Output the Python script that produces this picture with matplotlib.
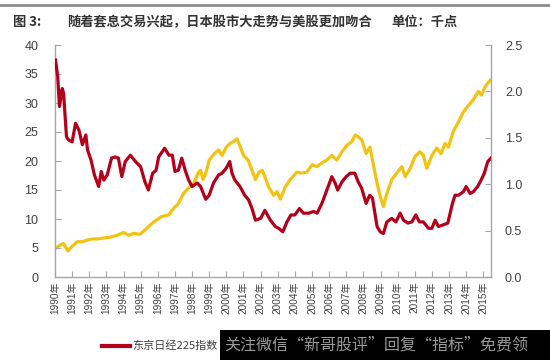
import matplotlib
matplotlib.use("Agg")
import matplotlib.pyplot as plt
from matplotlib.patches import Rectangle
from matplotlib.lines import Line2D

# ---- data ----
nikkei_t = [1990.03, 1990.16, 1990.26, 1990.42, 1990.5, 1990.67, 1990.8, 1991.0, 1991.2, 1991.4,
            1991.6, 1991.8, 1991.9, 1992.1, 1992.3, 1992.55, 1992.7, 1992.85, 1993.05, 1993.3,
            1993.5, 1993.7, 1993.9, 1994.1, 1994.4, 1994.7, 1995.0, 1995.25, 1995.45, 1995.7,
            1995.9, 1996.05, 1996.4, 1996.65, 1996.85, 1997.0, 1997.2, 1997.4, 1997.6, 1997.8,
            1998.0, 1998.3, 1998.5, 1998.7, 1998.8, 1999.0, 1999.25, 1999.55, 1999.75, 1999.98,
            2000.2, 2000.33, 2000.5, 2000.8, 2001.07, 2001.3, 2001.5, 2001.7, 2002.0, 2002.25,
            2002.57, 2002.86, 2003.05, 2003.3, 2003.54, 2003.77, 2004.0, 2004.27, 2004.5, 2004.8,
            2005.1, 2005.3, 2005.58, 2005.87, 2006.16, 2006.35, 2006.5, 2006.75, 2007.0, 2007.23,
            2007.5, 2007.7, 2007.9, 2008.16, 2008.37, 2008.53, 2008.8, 2008.98, 2009.17, 2009.37,
            2009.66, 2009.9, 2010.15, 2010.34, 2010.6, 2010.83, 2011.06, 2011.27, 2011.5, 2011.8,
            2012.0, 2012.19, 2012.38, 2012.67, 2012.93, 2013.2, 2013.35, 2013.55, 2013.84, 2014.0,
            2014.23, 2014.42, 2014.67, 2014.87, 2015.06, 2015.26, 2015.45]
nikkei_v = [37.4, 34.5, 29.4, 32.5, 31.7, 24.2, 23.6, 23.3, 26.5, 25.3,
            22.8, 24.5, 21.9, 20.2, 17.6, 15.6, 18.2, 16.7, 17.6, 20.5,
            20.7, 20.5, 17.3, 19.9, 21.0, 19.9, 19.0, 16.4, 15.0, 17.9,
            18.4, 20.7, 22.2, 21.0, 21.0, 18.2, 18.4, 20.5, 18.4, 16.7,
            15.6, 16.2, 15.6, 14.1, 13.4, 14.1, 16.2, 17.6, 17.9, 18.7,
            19.9, 17.9, 16.7, 15.6, 14.1, 13.3, 11.8, 9.8, 10.1, 11.5,
            9.8, 8.7, 8.4, 7.8, 9.5, 10.7, 10.7, 11.8, 11.0, 11.0,
            11.3, 11.0, 12.7, 15.0, 17.3, 16.2, 15.0, 16.4, 17.3, 17.9,
            17.9, 16.4, 15.3, 12.7, 14.1, 13.6, 8.7, 7.8, 7.5, 9.5,
            10.1, 9.5, 11.0, 9.8, 9.3, 9.5, 10.7, 9.5, 9.5, 8.4,
            8.4, 9.8, 8.7, 9.0, 9.3, 12.7, 14.1, 14.1, 14.7, 15.6,
            14.4, 14.7, 15.6, 16.7, 17.9, 19.9, 20.5]

spx_t = [1990.03, 1990.32, 1990.5, 1990.75, 1991.0, 1991.3, 1991.6, 1991.9, 1992.2, 1992.46,
         1992.85, 1993.24, 1993.63, 1994.0, 1994.3, 1994.6, 1994.95, 1995.28, 1995.67, 1995.9,
         1996.2, 1996.64, 1996.93, 1997.2, 1997.5, 1997.8, 1998.1, 1998.35, 1998.5, 1998.64,
         1998.82, 1999.0, 1999.3, 1999.55, 1999.75, 2000.0, 2000.23, 2000.43, 2000.62, 2000.82,
         2001.0, 2001.27, 2001.5, 2001.7, 2001.9, 2002.1, 2002.25, 2002.47, 2002.76, 2002.96,
         2003.15, 2003.44, 2003.73, 2004.12, 2004.4, 2004.7, 2005.0, 2005.29, 2005.58, 2005.87,
         2006.16, 2006.45, 2006.75, 2007.04, 2007.33, 2007.52, 2007.7, 2007.9, 2008.16, 2008.38,
         2008.53, 2008.8, 2008.98, 2009.17, 2009.37, 2009.66, 2009.95, 2010.25, 2010.44, 2010.73,
         2011.02, 2011.3, 2011.5, 2011.7, 2012.0, 2012.28, 2012.54, 2012.77, 2012.96, 2013.25,
         2013.55, 2013.84, 2014.13, 2014.42, 2014.71, 2014.9, 2015.1, 2015.4]
spx_v = [0.31, 0.345, 0.36, 0.28, 0.33, 0.38, 0.38, 0.40, 0.41, 0.41,
         0.42, 0.43, 0.45, 0.48, 0.45, 0.47, 0.46, 0.51, 0.58, 0.61,
         0.65, 0.67, 0.74, 0.79, 0.90, 0.96, 1.01, 1.12, 1.15, 1.05,
         1.13, 1.26, 1.33, 1.37, 1.31, 1.40, 1.44, 1.46, 1.49, 1.40,
         1.31, 1.26, 1.15, 1.05, 1.13, 1.15, 1.08, 0.97, 0.88, 0.92,
         0.84, 0.97, 1.05, 1.13, 1.12, 1.13, 1.21, 1.19, 1.23, 1.26,
         1.31, 1.26, 1.35, 1.42, 1.46, 1.53, 1.51, 1.48, 1.33, 1.40,
         1.26, 1.01, 0.87, 0.76, 0.90, 1.05, 1.12, 1.19, 1.08, 1.17,
         1.30, 1.35, 1.31, 1.17, 1.31, 1.39, 1.33, 1.44, 1.40, 1.57,
         1.67, 1.78, 1.85, 1.91, 2.00, 1.96, 2.05, 2.12]

years = list(range(1990, 2016))
year_labels = [f"{y}年" for y in years]
left_ticks = [0, 5, 10, 15, 20, 25, 30, 35, 40]
right_ticks = [0.0, 0.5, 1.0, 1.5, 2.0, 2.5]

title_fig = "图 3:"
title_main = "随着套息交易兴起，日本股市大走势与美股更加吻合"
title_unit = "单位：千点"
legend_label = "东京日经225指数"
watermark = "关注微信“新哥股评”回复“指标”免费领"

RED = "#B3001B"
YEL = "#F2C311"
SPINE = "#A6A6A6"
TXT = "#404040"
num_font = ["Liberation Sans", "Noto Sans CJK SC"]
cjk_font = ["Noto Sans CJK SC", "DejaVu Sans"]

fig = plt.figure(figsize=(5.5, 3.6), dpi=100)
ax = fig.add_axes([55/550, 1-277/360, (491-55)/550, (277-45)/360])
ax2 = ax.twinx()

ax.plot(nikkei_t, nikkei_v, color=RED, lw=2.3, zorder=3, solid_joinstyle="round")
ax2.plot(spx_t, spx_v, color=YEL, lw=2.3, zorder=2, solid_joinstyle="round")
ax.set_zorder(ax2.get_zorder() + 1)
ax.patch.set_visible(False)

ax.set_xlim(1990, 2015.45)
ax.set_ylim(0, 40)
ax2.set_ylim(0, 2.5)

ax.set_xticks(years)
ax.set_xticklabels(year_labels, rotation=90, fontsize=7.2, color=TXT, family=num_font)
ax.set_yticks(left_ticks)
ax.set_yticklabels([str(v) for v in left_ticks], fontsize=9, color=TXT, family=num_font)
ax2.set_yticks(right_ticks)
ax2.set_yticklabels([f"{v:.1f}" for v in right_ticks], fontsize=9, color=TXT, family=num_font)

for a in (ax, ax2):
    a.spines["top"].set_visible(False)
    for s in ("left", "right", "bottom"):
        a.spines[s].set_color(SPINE)
        a.spines[s].set_linewidth(1.0)
ax.spines["right"].set_visible(False)
ax2.spines["left"].set_visible(False)
ax2.spines["bottom"].set_visible(False)

ax.tick_params(axis="y", direction="in", length=4, color=SPINE, pad=12)
ax.tick_params(axis="x", direction="in", length=4, color=SPINE, pad=3)
ax2.tick_params(axis="y", direction="in", length=4, color=SPINE, pad=10)

# top rule
fig.add_artist(Line2D([0, 1], [1-5/360, 1-5/360], color="#8C8C8C", lw=2.0))

# title
fig.text(13/550, 1-22/360, title_fig, fontsize=9.5, fontweight="bold", color="#333333",
         family=cjk_font, va="center", ha="left")
fig.text(67/550, 1-22/360, title_main, fontsize=9.5, fontweight="bold", color="#333333",
         family=cjk_font, va="center", ha="left")
fig.text(391/550, 1-22/360, title_unit, fontsize=9.5, fontweight="bold", color="#333333",
         family=cjk_font, va="center", ha="left")

# legend
fig.add_artist(Line2D([102/550, 130/550], [1-346/360, 1-346/360], color=RED, lw=3))
fig.text(132/550, 1-346/360, legend_label, fontsize=8, color=TXT, family=cjk_font,
         va="center", ha="left")

# watermark overlay
fig.add_artist(Rectangle((220/550, 0), 1 - 220/550, 30/360, transform=fig.transFigure,
                         facecolor="black", edgecolor="none", zorder=10))
fig.text(224/550, 1-345/360, watermark, fontsize=11.5, color="#9A9A9A", family=cjk_font,
         va="center", ha="left", zorder=11)

fig.savefig("out.png", dpi=100)
